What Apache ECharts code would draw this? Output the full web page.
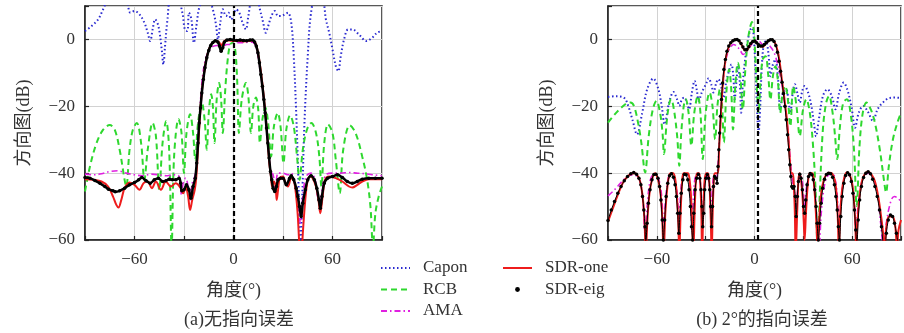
<!DOCTYPE html>
<html>
<head>
<meta charset="utf-8">
<script src="https://cdn.jsdelivr.net/npm/echarts@6.0.0/dist/echarts.min.js"></script>
<style>
  html, body { margin: 0; padding: 0; background: #fff; }
  #main { width: 904px; height: 333px; }
</style>
</head>
<body>
<div id="main"></div>
<script>
// ---- axis labels / captions ----
const xTickLabels = [-60, 0, 60];
const yTickLabels = [0, -20, -40, -60];
const captions = ['(a)无指向误差', '(b) 2°的指向误差'];
const steerDir = [0, 2];

// ---- (a) 无指向误差 ----
const caponA = [[-90,2.5],[-86,4],[-82,6],[-79,9],[-76,12],[-70,14],[-65,12],[-62.5,8],[-60,8.5],[-57,7.5],[-54,5],[-52,2],[-50.5,-0.5],[-49,3],[-47.5,6],[-45.5,4],[-43.5,-3],[-42.5,-7.5],[-41.5,-2],[-40,6],[-38,12],[-34,12],[-31,8],[-29.5,3],[-28,2.5],[-27,8],[-25.5,6],[-24,-1],[-22.5,4],[-20.5,10],[-17,13],[-14,11],[-12,8],[-10.5,4],[-9.5,0],[-8,5],[-6.5,9],[-4.5,7],[-3,8],[-1.5,6],[0,7],[1.5,9],[3.5,8],[5.5,5],[7.5,3],[9,7],[11,12],[14,13],[16,9],[18,5],[19.5,2],[21,4],[23,7],[25,8.5],[27,7],[29,7],[31,7.5],[33,8],[35,5],[36.5,-5],[38,-22],[39.5,-45],[40.5,-65],[41.5,-50],[43,-25],[45,-5],[47,8],[50,13],[54,12],[56,6],[58,2],[60,-3],[62,-8],[63.5,-9.5],[65,-5],[67,0],[69.5,3],[72,3],[76,1.5],[80.5,-0.5],[84,0.5],[87,2],[90,2.5]];
const rcbA = [[-90,-45.5],[-87,-38],[-83,-31],[-79,-27],[-75,-25.6],[-72,-27],[-69,-33],[-66,-42],[-65,-44],[-63,-33],[-61,-27],[-58.6,-25],[-56,-31],[-54,-42],[-52,-33],[-49,-25],[-47,-29],[-45,-45],[-43,-31],[-40.8,-24.4],[-39,-33],[-37.5,-62],[-36,-35],[-33.3,-23.8],[-31.5,-28],[-30,-40],[-28.5,-28],[-26.3,-22.4],[-24.5,-28],[-23.2,-36],[-21.5,-25],[-19.2,-18.9],[-17.5,-24],[-16.2,-33],[-15,-22],[-13.5,-16.4],[-12.5,-20],[-11.5,-31],[-10.2,-18],[-8.7,-13],[-7.5,-18],[-6.5,-28],[-5,-15],[-3.5,-6],[-2,-1.5],[-0.5,-1],[1,-3],[2.2,-12],[3.3,-28],[5,-18],[7.5,-13],[9,-17],[10.6,-28],[12,-20],[13.6,-17.4],[15,-21],[16,-31],[17.5,-24],[19.3,-20.4],[21,-25],[22.8,-35],[24.5,-26],[26.8,-22],[28.5,-26],[30.3,-37],[32,-27],[34.3,-22.7],[36.5,-26],[38.5,-35],[40,-42],[42,-33],[44.5,-27],[47.2,-25],[50,-28],[52,-35],[53.3,-44],[55,-31],[57.3,-25.4],[60,-28],[62,-36],[64.4,-46],[66.5,-33],[70.5,-25.7],[74,-28],[78,-35],[81,-42],[83,-50],[84.5,-62],[86,-52],[88,-47],[90,-44]];
const amaA = [[-90,-40.3],[-85,-40.5],[-80,-40.2],[-75,-39.5],[-70,-39.3],[-65,-40],[-60,-40.5],[-55,-40.8],[-50,-40.3],[-45,-40.5],[-40,-40.8],[-36,-40.5],[-33,-41],[-31.5,-46.5],[-30.5,-43],[-29,-41.5],[-27.5,-44],[-26.3,-48],[-25,-43],[-23.5,-41],[-22.5,-38],[-21.5,-30],[-20.5,-22],[-19.5,-15],[-18.5,-10],[-17,-6],[-15.5,-4],[-14,-2.8],[-12,-2],[-10,-1.8],[-8,-2.5],[-6,-2],[-4,-1.5],[-2,-1.5],[0,-1.2],[3,-1],[6,-1],[9,-0.8],[11.5,-0.8],[13.5,-2],[15,-5.5],[16.5,-10.5],[18,-16.5],[19.3,-22.5],[20.5,-29],[21.7,-36],[22.6,-39.5],[24,-40.5],[25.5,-45],[27,-40],[30,-40],[33,-40.5],[35,-40],[37,-43],[39,-48],[40.5,-55],[42,-47],[44,-41],[47,-40],[49.5,-42],[51,-47],[52.5,-49],[54,-44],[56,-40.5],[60,-40],[65,-40],[70,-39.8],[75,-40],[80,-40.2],[85,-40.5],[90,-40.8]];
const sdrOneA = [[-90,-41.8],[-85,-42],[-80,-42.5],[-76,-44],[-73,-47],[-71,-49.5],[-69.7,-50.3],[-68,-48],[-66,-44.5],[-63,-42.8],[-60,-43.5],[-57,-45],[-54.5,-43],[-52,-42.5],[-49.5,-44.5],[-47,-42.5],[-44,-45],[-41,-42.5],[-38,-44],[-35,-43],[-32,-44.5],[-30.5,-46],[-29,-44],[-27.5,-47],[-26.3,-51],[-25,-48],[-23.5,-45],[-22.6,-41.5],[-21.6,-33.5],[-20.6,-25],[-19.6,-18],[-18.6,-13],[-17.2,-8],[-15.8,-4.5],[-14.1,-2],[-12.1,-0.8],[-10,-0.5],[-8.5,-1],[-7.5,-1.8],[-6.5,-1.2],[-5,-0.3],[-2,-0.3],[0,-0.5],[3,-0.4],[6,-0.6],[9,-0.5],[11.6,-0.3],[13.6,-1.5],[15.2,-5],[16.7,-10],[18.1,-16],[19.3,-22],[20.5,-29],[21.7,-37],[22.6,-40.5],[23.4,-44],[24.5,-42.5],[25.5,-44],[26.2,-48],[27,-45],[28,-41.5],[30,-41],[31.5,-43],[33,-44],[35,-41.5],[36.5,-42],[38,-47],[39,-53],[40,-62],[41,-66],[42,-58],[43.5,-48],[45,-42],[46.5,-41],[48,-41.5],[50,-44],[51.5,-48],[52.6,-52],[54,-47],[55.5,-42],[58,-41],[62,-41.5],[66,-42.5],[70,-44],[72,-44.3],[75,-43.5],[78,-42.5],[82,-41.8],[86,-41.8],[90,-41.8]];
const sdrEigA = [[-90,-41.3],[-87,-41.5],[-84,-42.2],[-81,-43],[-78,-44],[-75.8,-44.8],[-73,-45.3],[-71.7,-45.6],[-69,-45.3],[-66,-44.5],[-63,-43.5],[-60,-42.8],[-57.5,-42],[-55.6,-41.3],[-53,-42.3],[-50.5,-43],[-48,-42],[-45.5,-41.5],[-43,-42.5],[-41,-42.3],[-39,-41.8],[-37,-42],[-35,-42],[-33,-41.5],[-32,-43],[-31.3,-45.3],[-30,-45],[-28.5,-43.5],[-27,-45],[-25.8,-47.5],[-24.5,-44],[-23.2,-41.5],[-22.3,-37],[-21.5,-31],[-20.8,-25],[-20,-20.5],[-19.2,-16],[-18.3,-12],[-17.3,-8.5],[-16.2,-5.5],[-15,-3.3],[-13.8,-1.8],[-12.5,-0.9],[-11,-0.4],[-9.5,-0.8],[-8.5,-2],[-7.5,-3.5],[-6.5,-2.5],[-5.5,-0.8],[-4,-0.2],[-2,0],[0,-0.2],[2,-0.3],[4,-0.2],[6,-0.3],[8,-0.4],[10,-0.2],[11.6,-0.2],[12.8,-0.8],[13.8,-2],[14.8,-4],[15.7,-7],[16.6,-10.5],[17.5,-14],[18.4,-18],[19.2,-22],[20,-26.5],[20.8,-31],[21.6,-35.5],[22.4,-39.5],[23.2,-42],[24,-44.5],[25,-45.5],[26,-44],[27,-42],[28.5,-41.5],[30,-41.5],[32,-43.5],[34,-41.5],[35,-40.8],[36.5,-42],[38,-44.5],[39,-47],[40,-50],[41,-53],[42,-49],[43.5,-45],[45,-42],[47,-40.8],[49,-42],[50.5,-44.5],[51.8,-48],[52.6,-50.5],[53.6,-47],[55,-43],[57,-41.5],[60,-41],[63,-40.5],[66,-41.3],[69,-42.5],[72,-43],[75,-42.5],[78,-41.8],[82,-41.5],[86,-41.5],[90,-41.5]];

// ---- (b) 2°的指向误差 ----
const caponB = [[-90,-17.2],[-85,-17],[-80,-17.5],[-77.5,-20],[-75,-24],[-72.2,-28.4],[-69,-22],[-66,-15],[-62.2,-11.7],[-59,-15],[-57,-20],[-55.2,-25.4],[-52.5,-19],[-49.8,-15.7],[-47.5,-18],[-46.2,-19.9],[-44.5,-17.8],[-43.2,-17.4],[-41.5,-19],[-40.2,-20.9],[-38.5,-16],[-36.8,-12.4],[-35.5,-15],[-34.2,-18.4],[-32.5,-16],[-31,-14.5],[-29.5,-13],[-28.2,-11.6],[-26.5,-13.5],[-25.2,-15.9],[-23.5,-13],[-22.2,-11.9],[-20.5,-14],[-19,-17.5],[-17.5,-13],[-16,-10],[-14.2,-7.5],[-13,-11],[-12.2,-17.9],[-11,-12],[-10.2,-8],[-9,-13],[-8.2,-21.9],[-7,-12],[-5.5,-5],[-4,0],[-2.5,3],[-1.5,3.5],[-0.5,1],[0.5,-8],[1.5,-20],[2.5,-28],[3.5,-20],[4.5,-8],[5.8,-1],[7,-0.5],[8.5,-4],[9.8,-11],[11,-8],[12.8,-6],[14.5,-12],[15.8,-21],[17.5,-16],[19.5,-15],[21,-19],[22,-22],[23.5,-16],[24.8,-13.4],[26.3,-16],[27.8,-18.9],[29.3,-15.5],[30.8,-13.9],[33,-16],[35,-20],[36.5,-25],[37.8,-29],[39.5,-24],[42,-17],[44.8,-14.9],[47.5,-17],[49.8,-20.9],[52,-16],[54.8,-12.9],[57,-15],[59.5,-20],[61.8,-26.4],[64,-22],[66.8,-19.9],[69.5,-21.5],[72.8,-24.4],[75.5,-21],[78.8,-18.9],[83,-17.5],[87,-17.4],[90,-17.5]];
const rcbB = [[-90,-24.9],[-86,-22.5],[-82,-20.5],[-78,-19],[-76.2,-18.9],[-74,-20],[-71.5,-25],[-69.5,-31],[-67.2,-39.8],[-65,-29],[-62.5,-21],[-60.2,-18.4],[-58,-22],[-56.5,-28],[-55.6,-34.3],[-54,-25],[-52.5,-19.5],[-51.2,-17.9],[-49.5,-21],[-47.5,-29],[-46.2,-37.8],[-45,-28],[-43.5,-20],[-42.2,-17.9],[-40.5,-22],[-38.8,-31.8],[-37,-22],[-34.8,-16.9],[-33.2,-22],[-31.8,-35.8],[-30,-22],[-27.6,-15.9],[-25.8,-20],[-24.2,-29.9],[-22.8,-20],[-21.2,-14.9],[-20,-19],[-18.8,-30.8],[-17.3,-16],[-15.6,-9],[-14.4,-14],[-13.2,-26.9],[-11.8,-14],[-10.2,-7],[-8.7,-11],[-7.2,-20.9],[-5.5,-8],[-4,0],[-2.5,4],[-1.5,5.2],[-0.5,3],[0.5,-5],[1.5,-15],[2.5,-22],[3.5,-14],[5,-6],[6.8,-5],[8.3,-10],[9.8,-18],[11.3,-11],[12.8,-8],[14.3,-12],[15.8,-22],[17.3,-16],[18.8,-13.9],[20.5,-18],[22,-26],[23.8,-14],[25.8,-20],[27.8,-28.9],[29.8,-21],[31.8,-17.9],[34,-22],[36,-32],[37.5,-45],[38.8,-62],[40.2,-45],[42,-27],[44,-19],[45.8,-16.9],[48,-22],[49.5,-29],[50.8,-35.8],[52.5,-26],[54.5,-19],[56.8,-17.9],[59,-22],[61,-32],[62.8,-49.8],[64.5,-32],[66.5,-22],[68.8,-18.9],[71.5,-21],[74,-25],[77,-33],[79.5,-42],[80.8,-45.8],[82.5,-38],[85,-30],[87.8,-24.9],[90,-22]];
const amaB = [[-90,-46.8],[-86,-45],[-82,-42.8],[-78,-41],[-75,-40.5],[-72,-41],[-70,-43],[-68.5,-48],[-67.3,-58],[-66,-50],[-64,-42],[-61.5,-40.2],[-59,-41.5],[-57,-47],[-56,-56],[-54.5,-47],[-53,-41.5],[-51.5,-40.2],[-49.5,-41.5],[-47.5,-46],[-46.5,-55],[-45.5,-47],[-44.5,-41.5],[-43,-40.3],[-41,-41.5],[-39.3,-47],[-38.5,-57],[-37.5,-47],[-36.5,-41.5],[-35,-40.4],[-33.5,-42],[-32.5,-48],[-31.8,-55],[-31,-46],[-29.8,-40.6],[-28.5,-41.5],[-27.5,-45],[-26.8,-52],[-25.8,-44],[-24.8,-40.6],[-23.5,-42],[-22.5,-38],[-21.5,-29],[-20.5,-21],[-19.5,-14],[-18.5,-9],[-17.3,-5.5],[-16,-3.5],[-14.5,-2.2],[-13,-1.5],[-11.5,-1.8],[-10,-2.5],[-8.5,-3.5],[-7,-4.5],[-5.5,-4],[-4,-3],[-2.5,-2],[-1,-1],[0.5,-0.5],[2,-0.3],[3.5,-0.8],[5,-1.5],[6.5,-1],[8,-1],[9.5,-2],[11,-3],[12.5,-4.5],[14,-7],[15.5,-10],[17,-14],[18.5,-19],[20,-25],[21.3,-32],[22.5,-39],[23.5,-43],[24.5,-46],[25.5,-50],[26.5,-45],[28,-40.5],[29.5,-43],[30.8,-50],[32,-44],[34,-40.5],[35.8,-41.5],[37.2,-46],[38.5,-56],[39.7,-62],[41,-52],[43,-43.5],[45,-40.8],[47.8,-40],[49.8,-42.5],[51,-48],[51.8,-58],[52.8,-50],[54.5,-43],[56.8,-40.2],[59,-41.5],[61,-47],[62.4,-57],[63.6,-50],[66,-42.5],[68,-40.5],[70,-40],[72,-41],[74,-43],[76,-48],[77.5,-55],[78.5,-60],[79.5,-65],[81,-55],[84,-48],[86,-47],[88,-47.5],[90,-48.5]];
const sdrOneB = [[-90,-54.5],[-87,-50.5],[-84,-46.5],[-81,-43],[-78,-41],[-75.5,-40.1],[-73.5,-40],[-71.5,-41],[-70,-43],[-68.5,-48],[-67.5,-55],[-66.8,-64],[-65.8,-54],[-64.5,-46],[-63,-42],[-61.2,-40],[-59.5,-41.5],[-58,-45],[-56.8,-52],[-55.8,-64],[-54.8,-52],[-53.5,-44],[-52.3,-40.5],[-51.2,-40],[-50,-40],[-48.8,-41.5],[-47.8,-46],[-46.8,-55],[-46.2,-64],[-45.4,-52],[-44.5,-43],[-43.5,-40],[-41,-40],[-40,-41.5],[-39,-47],[-38.2,-56],[-37.6,-64],[-36.8,-52],[-36,-42],[-35.2,-40],[-34,-40],[-33.2,-44],[-32.6,-53],[-32.2,-64],[-31.5,-52],[-30.6,-42],[-29.6,-40],[-28.5,-40],[-27.6,-44],[-26.9,-53],[-26.3,-64],[-25.7,-52],[-25,-42],[-24.3,-40],[-22.5,-40],[-21.8,-33],[-21.2,-28],[-20.6,-22],[-20,-17],[-19.2,-12],[-18.5,-8.5],[-17.4,-5],[-16.2,-2.8],[-14.5,-1],[-12.5,-0.2],[-11,0],[-9.5,-0.5],[-8,-1.5],[-6.5,-3],[-5,-3.3],[-3.5,-2.3],[-2,-1],[0,-0.5],[2,-1.3],[3.5,-2],[5,-2.2],[6.5,-1.5],[8,-0.6],[9.5,-0.2],[11,-0.1],[12.3,-0.8],[13.5,-2.2],[14.7,-4.5],[15.8,-8],[16.8,-12],[17.8,-15.5],[18.8,-19.5],[19.8,-23.5],[20.6,-28],[21.3,-33],[22,-38],[22.5,-40],[23.5,-40],[24.2,-44],[24.8,-52],[25.3,-64],[26.2,-52],[27,-42],[27.8,-40],[28.6,-42],[29.5,-47],[30.3,-55],[30.8,-60],[31.6,-52],[32.8,-43],[34,-40],[35.6,-40],[36.5,-43],[37.4,-49],[38.2,-57],[38.8,-64],[39.6,-55],[41,-46],[42.6,-42],[44.5,-40.2],[46.5,-39.9],[48,-40.3],[49.5,-42.5],[50.5,-47],[51.3,-55],[51.8,-64],[52.6,-53],[53.8,-45],[55.3,-41],[56.8,-39.8],[58.5,-40.5],[60,-43],[61.2,-49],[62,-56],[62.5,-64],[63.3,-54],[65,-45],[67,-41],[69.8,-39.6],[72,-40.5],[74,-42.5],[76,-47],[77.8,-53],[79,-58],[79.8,-64],[80.8,-57],[82.5,-53],[84.8,-53],[86.5,-56],[87.5,-62],[88.5,-57],[90,-54]];
const sdrEigB = [[-90,-54.2],[-88,-51],[-86,-48.5],[-84,-46],[-82,-44],[-80,-42.3],[-78,-41],[-76,-40.2],[-74.2,-39.8],[-72.5,-40.3],[-71,-41.5],[-69.8,-43.5],[-68.8,-47],[-68,-51],[-67.3,-56],[-66.8,-61],[-66,-55],[-65.2,-49],[-64.2,-45],[-63,-42],[-61.8,-40.4],[-60.5,-40.3],[-59.3,-41.5],[-58.3,-44],[-57.5,-48],[-56.7,-54],[-56,-60],[-55.2,-54],[-54.3,-47],[-53.3,-43],[-52.2,-40.8],[-51,-40.2],[-49.8,-41.2],[-48.8,-43.5],[-48,-47],[-47.2,-52],[-46.5,-58],[-45.8,-52],[-45,-46],[-44,-42],[-43,-40.3],[-42,-40.5],[-41,-42],[-40.2,-45],[-39.4,-50],[-38.7,-56],[-38,-60],[-37.3,-52],[-36.5,-45],[-35.5,-41.5],[-34.5,-40.3],[-33.6,-41.5],[-32.9,-45],[-32.3,-50],[-31.8,-56],[-31.2,-52],[-30.6,-45],[-29.8,-41.5],[-29,-40.4],[-28.2,-41.5],[-27.5,-45],[-26.9,-50],[-26.4,-56],[-25.8,-50],[-25.2,-44],[-24.5,-41],[-23.8,-41.5],[-23,-43],[-22.4,-38],[-21.9,-33],[-21.4,-28],[-20.9,-23],[-20.3,-18],[-19.6,-13],[-18.8,-9],[-17.9,-6],[-16.9,-3.5],[-15.8,-2],[-14.6,-1],[-13.3,-0.4],[-12,-0.1],[-10.7,0],[-9.5,-0.4],[-8.3,-1.2],[-7.1,-2.3],[-5.9,-3.1],[-4.7,-3],[-3.5,-2.2],[-2.3,-1.2],[-1.1,-0.6],[0.1,-0.5],[1.3,-1],[2.5,-1.6],[3.7,-2],[4.9,-2],[6.1,-1.5],[7.3,-0.9],[8.5,-0.4],[9.7,-0.1],[10.9,-0.1],[12,-0.6],[13.1,-1.8],[14.1,-3.8],[15.1,-6.5],[16,-9.5],[16.9,-12.8],[17.8,-16.2],[18.7,-20],[19.5,-24],[20.3,-28.5],[21,-33],[21.7,-37.5],[22.3,-41],[22.9,-44],[23.6,-44.5],[24.3,-44],[25,-47],[25.6,-53],[26.3,-47],[27,-42.5],[27.8,-40.3],[28.6,-41.5],[29.4,-45],[30.1,-50],[30.8,-52],[31.5,-48],[32.3,-43.5],[33.2,-41],[34.2,-40.1],[35.2,-40.5],[36.1,-42],[37,-45],[37.8,-50],[38.5,-55],[39.2,-60],[40,-55],[40.9,-49],[41.9,-44.5],[43,-41.8],[44.2,-40.4],[45.5,-40],[46.8,-40.2],[48,-41.2],[49.1,-43.5],[50,-47],[50.8,-51],[51.5,-56],[52.2,-60],[53,-53],[53.9,-47],[54.9,-43],[56,-40.7],[57.2,-39.9],[58.4,-40.5],[59.5,-42.5],[60.5,-46],[61.4,-51],[62.2,-57],[62.9,-61],[63.7,-54],[64.6,-48],[65.7,-44],[67,-41.3],[68.4,-40],[69.8,-39.6],[71.2,-40.2],[72.6,-41.8],[74,-44],[75.4,-47],[76.8,-51],[78,-56],[79,-61],[80,-64],[81,-58],[82.2,-54],[83.5,-52.5],[84.8,-53],[86,-55],[87.2,-58],[88.5,-62]];

const panels = [
  {capon: caponA, rcb: rcbA, ama: amaA, one: sdrOneA, eig: sdrEigA},
  {capon: caponB, rcb: rcbB, ama: amaB, one: sdrOneB, eig: sdrEigB}
];

const SERIF = "'Liberation Serif', 'Noto Sans CJK SC', serif";
const TXT = '#333';
const gridPos = [
  {left: 85, top: 6, width: 297, height: 234},
  {left: 608, top: 6, width: 298, height: 234}
];
const minus = v => String(v).replace('-', '\u2212');

const grids = [], xAxes = [], yAxes = [], series = [], titles = [];

panels.forEach((p, i) => {
  grids.push(Object.assign({show: true, borderColor: '#222', borderWidth: 1.5, backgroundColor: 'transparent'}, gridPos[i]));
  xAxes.push({
    type: 'value', gridIndex: i, min: -90, max: 90, interval: 30,
    name: '角度(°)', nameLocation: 'middle', nameGap: 42,
    nameTextStyle: {fontFamily: SERIF, fontSize: 18, color: TXT},
    axisLine: {show: true, onZero: false, lineStyle: {color: '#222', width: 1.5}},
    axisTick: {show: true, inside: true, length: 4, lineStyle: {color: '#222', width: 1.2}},
    axisLabel: {margin: 11, fontFamily: SERIF, fontSize: 17, color: TXT,
      formatter: v => xTickLabels.includes(v) ? minus(v) : ''},
    splitLine: {show: true, lineStyle: {color: '#d2d2d2', width: 1}}
  });
  yAxes.push({
    type: 'value', gridIndex: i, min: -60, max: 10, interval: 20,
    name: '方向图(dB)', nameLocation: 'middle', nameGap: 52,
    nameTextStyle: {fontFamily: SERIF, fontSize: 18, color: TXT},
    axisLine: {show: true, onZero: false, lineStyle: {color: '#222', width: 1.5}},
    axisTick: {show: true, inside: true, length: 4, lineStyle: {color: '#222', width: 1.2}},
    axisLabel: {margin: 10, fontFamily: SERIF, fontSize: 17, color: TXT,
      formatter: v => yTickLabels.includes(v) ? minus(v) : ''},
    splitLine: {show: true, lineStyle: {color: '#d2d2d2', width: 1}}
  });
  titles.push({
    text: captions[i], left: i === 0 ? 234 : 757, top: 306, textAlign: 'center',
    textStyle: {fontFamily: SERIF, fontSize: 18, fontWeight: 'normal', color: TXT}
  });
  const base = {type: 'line', xAxisIndex: i, yAxisIndex: i, symbol: 'none', showSymbol: false, smooth: 0.35, animation: false};
  series.push(Object.assign({}, base, {
    name: 'Capon', data: p.capon, z: 2,
    lineStyle: {color: '#2a2ad0', width: 2, type: [1.5, 2.5]}, itemStyle: {color: '#2a2ad0'},
    markLine: {
      silent: true, symbol: ['none', 'none'], label: {show: false},
      lineStyle: {color: '#000', width: 2.2, type: [5, 3]},
      data: [{xAxis: steerDir[i]}]
    }
  }));
  series.push(Object.assign({}, base, {
    name: 'RCB', data: p.rcb, z: 2,
    lineStyle: {color: '#2ed82e', width: 2, type: [6, 4]}, itemStyle: {color: '#2ed82e'}
  }));
  series.push(Object.assign({}, base, {
    name: 'AMA', data: p.ama, z: 3,
    lineStyle: {color: '#e020e0', width: 1.6, type: [6, 3, 1.5, 3]}, itemStyle: {color: '#e020e0'}
  }));
  series.push(Object.assign({}, base, {
    name: 'SDR-one', data: p.one, z: 4,
    lineStyle: {color: '#ee1c1c', width: 2}, itemStyle: {color: '#ee1c1c'}
  }));
  series.push(Object.assign({}, base, {
    name: 'SDR-eig', data: p.eig, z: 5, symbol: 'circle', showSymbol: true, symbolSize: 3.5,
    lineStyle: {color: '#000', width: i === 0 ? 2.5 : 1}, itemStyle: {color: '#000'}
  }));
});

const legendText = {fontFamily: SERIF, fontSize: 17, color: TXT, lineHeight: 20, padding: [0, 0, 0, 8]};
const chart = echarts.init(document.getElementById('main'), null, {renderer: 'canvas'});
chart.setOption({
  animation: false,
  backgroundColor: '#fff',
  title: titles,
  grid: grids,
  xAxis: xAxes,
  yAxis: yAxes,
  legend: [
    {
      orient: 'vertical', left: 380, top: 258, padding: 0, itemWidth: 29, itemHeight: 6, itemGap: 1.5,
      selectedMode: false, itemStyle: {opacity: 0}, textStyle: legendText,
      data: ['Capon', 'RCB', 'AMA']
    },
    {
      orient: 'vertical', left: 502, top: 258, padding: 0, itemWidth: 29, itemHeight: 6, itemGap: 1.5,
      selectedMode: false, textStyle: legendText,
      data: [
        {name: 'SDR-one', itemStyle: {opacity: 0}},
        {name: 'SDR-eig', lineStyle: {opacity: 0}}
      ]
    }
  ],
  series: series
});
</script>
</body>
</html>
